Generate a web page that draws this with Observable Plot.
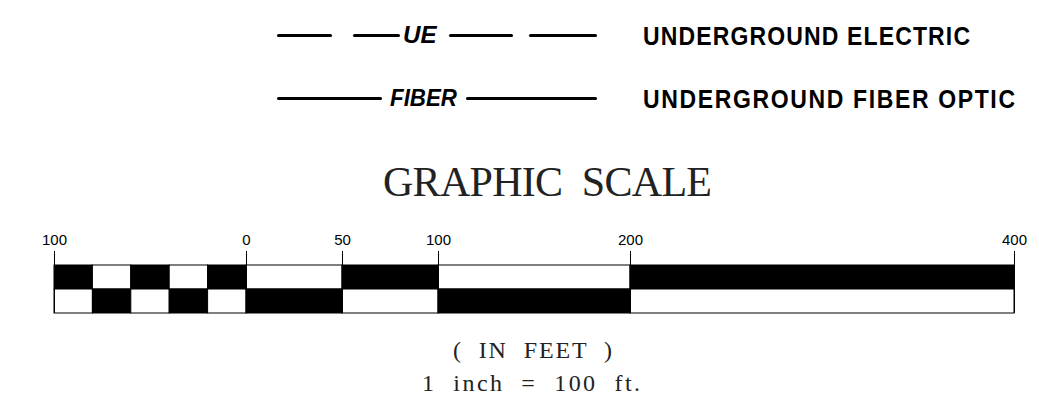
<!DOCTYPE html>
<html><head><meta charset="utf-8">
<script src="https://cdn.jsdelivr.net/npm/d3@7"></script>
<script src="https://cdn.jsdelivr.net/npm/@observablehq/plot@0.6"></script>
<style>
body{margin:0;background:#fff;}
#wrap{position:relative;width:1039px;height:416px;overflow:hidden;font-family:"Liberation Sans",Arial,sans-serif;}
.abs{position:absolute;white-space:pre;line-height:1;}
.seg{position:absolute;background:#000;border-radius:1.5px;}
.lg{font-family:"Liberation Sans",Arial,sans-serif;font-weight:bold;font-style:italic;font-size:23px;transform-origin:0 50%;}
.desc{font-family:"Liberation Sans",Arial,sans-serif;font-weight:bold;font-size:25px;transform-origin:0 50%;}
.serif{font-family:"Liberation Serif","Times New Roman",serif;color:#222;}
#plot{position:absolute;left:0;top:220px;}
</style></head>
<body>
<div id="wrap">
  <div id="legend"></div>
  <div class="abs serif" id="title" style="top:161px;font-size:42px;"></div>
  <div id="plot"></div>
  <div class="abs serif" id="cap1" style="top:338px;font-size:24px;"></div>
  <div class="abs serif" id="cap2" style="top:371px;font-size:24px;"></div>
</div>
<script>
// ---- data ----
const legendCodes = ["UE", "FIBER"];
const legendNames = ["UNDERGROUND ELECTRIC", "UNDERGROUND FIBER OPTIC"];
const titleText = "GRAPHIC  SCALE";
const unitText = "(  IN  FEET  )";
const ratioText = "1  inch  =  100  ft.";

const segStarts = [-100, -80, -60, -40, -20, 0, 50, 100, 200];
const segEnds   = [-80, -60, -40, -20, 0, 50, 100, 200, 400];
const topShade  = ["black", "white", "black", "white", "black", "white", "black", "white", "black"];
const rows = ["top", "bottom"];
const tickValues = [-100, 0, 50, 100, 200, 400];
const tickLabels = ["100", "0", "50", "100", "200", "400"];

// ---- helpers: fit text to a measured span ----
function fitText(el, left, right, sx = 1) {
  el.style.left = left + "px";
  el.style.letterSpacing = "0px";
  if (sx !== 1) el.style.transform = `scaleX(${sx})`;
  const w = el.getBoundingClientRect().width;
  const n = Math.max(1, el.textContent.length - 1);
  const ls = (right - left - w) / (n * sx);
  el.style.letterSpacing = ls + "px";
}

// ---- legend layout (decoration) ----
const legendLayout = [
  {y: 35, segs: [[277, 332], [353, 400], [449, 513], [529, 597]], codeX: 403, codeSx: 1.05, name: [643, 970]},
  {y: 98, segs: [[277, 382], [466, 597]], codeX: 390, codeSx: 0.97, name: [643, 1015]}
];
const legend = document.getElementById("legend");
legendLayout.forEach((L, i) => {
  L.segs.forEach(([a, b]) => {
    const d = document.createElement("div");
    d.className = "seg";
    d.style.cssText = `left:${a}px;width:${b - a}px;top:${L.y - 1.5}px;height:3px;`;
    legend.appendChild(d);
  });
  const c = document.createElement("div");
  c.className = "abs lg";
  c.style.top = (L.y - 11.5) + "px";
  c.style.left = L.codeX + "px";
  c.style.transform = `scaleX(${L.codeSx})`;
  c.textContent = legendCodes[i];
  legend.appendChild(c);
  const n = document.createElement("div");
  n.className = "abs desc";
  n.style.top = (L.y + 1 - 12.5) + "px";
  n.textContent = legendNames[i];
  legend.appendChild(n);
  fitText(n, L.name[0], L.name[1], 0.92);
});
const t = document.getElementById("title"); t.textContent = titleText; fitText(t, 383, 712);
const c1 = document.getElementById("cap1"); c1.textContent = unitText; fitText(c1, 453, 612);
const c2 = document.getElementById("cap2"); c2.textContent = ratioText; fitText(c2, 422, 640);

// ---- scale bar ----
const cells = [];
segStarts.forEach((s, i) => {
  cells.push({x1: s, x2: segEnds[i], row: "top", shade: topShade[i]});
  cells.push({x1: s, x2: segEnds[i], row: "bottom", shade: topShade[i] === "black" ? "white" : "black"});
});

const chart = Plot.plot({
  width: 1039, height: 94,
  marginLeft: 54, marginRight: 25, marginTop: 31, marginBottom: 1,
  style: {fontFamily: "'Liberation Sans', Arial, sans-serif", background: "white"},
  x: {domain: [-100, 400], axis: null},
  y: {type: "band", domain: rows, range: [45, 93], padding: 0, axis: null},
  color: {type: "identity"},
  marks: [
    Plot.barX(cells, {x1: "x1", x2: "x2", y: "row", fill: "shade", stroke: "black", strokeWidth: 1}),
    Plot.ruleX(tickValues, {stroke: "black", strokeWidth: 1}),
    Plot.text(tickValues, {x: d => d, text: (d, i) => tickLabels[i], frameAnchor: "top", lineAnchor: "bottom", dy: -7, fontSize: 15, fill: "black"})
  ]
});
document.getElementById("plot").appendChild(chart);
</script>
</body></html>
